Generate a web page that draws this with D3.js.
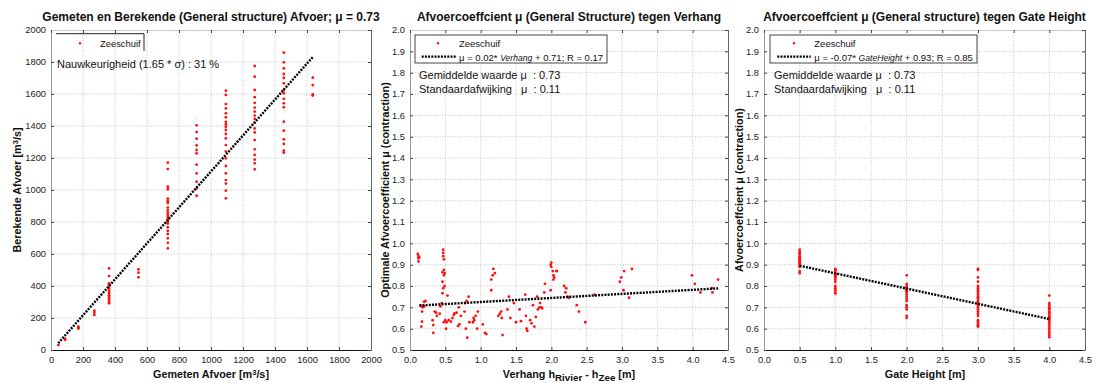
<!DOCTYPE html>
<html>
<head>
<meta charset="utf-8">
<script src="https://cdn.jsdelivr.net/npm/d3@7"></script>
<style>
  body { margin: 0; background: #fff; }
  svg { font-family: "Liberation Sans", Arial, sans-serif; }
  svg text { white-space: pre; }
  .tick text { fill: #222; font-size: 9.3px; }
</style>
</head>
<body>
<div id="chart"></div>
<script>
// ---- data ----
// panel 1: gemeten vs berekende afvoer, grouped by measured discharge
const gemetenNiveaus = [46, 88, 171, 271, 363, 547, 730, 910, 1093, 1273, 1455, 1636];
const berekendPerNiveau = [
  [31],
  [64, 70],
  [134, 140, 146],
  [219, 233, 246],
  [292, 300, 312, 322, 332, 342, 352, 362, 375, 388, 400, 410, 417, 462, 510],
  [454, 483, 504],
  [635, 670, 698, 725, 745, 767, 790, 800, 812, 822, 835, 845, 858, 873, 890, 918, 930, 946, 1005, 1021, 1131, 1171],
  [964, 1010, 1052, 1104, 1158, 1229, 1250, 1279, 1321, 1362, 1404],
  [948, 996, 1040, 1062, 1104, 1150, 1198, 1240, 1281, 1323, 1350, 1375, 1396, 1410, 1425, 1454, 1479, 1510, 1537, 1594, 1621],
  [1129, 1167, 1190, 1219, 1254, 1312, 1360, 1385, 1420, 1445, 1465, 1490, 1515, 1545, 1580, 1625, 1708, 1775],
  [1233, 1246, 1288, 1317, 1371, 1427, 1517, 1542, 1570, 1604, 1625, 1667, 1700, 1725, 1760, 1798, 1858],
  [1590, 1598, 1656, 1702]
];
const fitAfvoerX = [45, 1637];
const fitAfvoerCoef = [1.124, -8];

// panel 2: mu tegen verhang
const verhang = [
  0.11, 0.12, 0.12, 0.12, 0.13,
  0.16, 0.16, 0.17, 0.17, 0.18, 0.2, 0.2, 0.22,
  0.32, 0.33, 0.33, 0.35, 0.37, 0.38, 0.42, 0.43,
  0.45, 0.46, 0.46, 0.46, 0.47, 0.47, 0.47, 0.47, 0.48, 0.48, 0.48, 0.48, 0.49, 0.49, 0.5, 0.51, 0.52, 0.53, 0.55,
  0.58, 0.6, 0.62, 0.63, 0.66, 0.68, 0.69, 0.7, 0.72, 0.77, 0.78, 0.79, 0.8, 0.81, 0.83, 0.84,
  0.89, 0.9, 0.91, 0.93, 0.95, 0.96, 1.03, 1.06, 1.08,
  1.15, 1.15, 1.17, 1.18, 1.2, 1.25, 1.27, 1.29, 1.3, 1.31,
  1.38, 1.4, 1.42, 1.47, 1.5, 1.55, 1.57, 1.63, 1.64, 1.65, 1.66, 1.7, 1.72, 1.74, 1.76, 1.78,
  1.8, 1.81, 1.83, 1.84, 1.86, 1.87, 1.9, 1.91, 1.99, 1.99, 2.0, 2.0, 2.02, 2.03, 2.03, 2.04, 2.07, 2.08,
  2.18, 2.2, 2.21, 2.23, 2.25, 2.36, 2.39, 2.48, 2.61,
  2.97, 2.99, 3.02, 3.03, 3.1, 3.14,
  3.99, 4.03, 4.11, 4.27, 4.28, 4.36
];
const muVerhang = [
  0.95, 0.94, 0.93, 0.915, 0.935,
  0.708, 0.61, 0.68, 0.633, 0.70, 0.705, 0.726, 0.73,
  0.64, 0.617, 0.58, 0.68, 0.675, 0.66, 0.67, 0.705,
  0.72, 0.766, 0.82, 0.865, 0.79, 0.97, 0.955, 0.94, 0.925, 0.85, 0.875, 0.63, 0.80, 0.86, 0.64, 0.60, 0.63, 0.755, 0.64,
  0.633, 0.65, 0.665, 0.672, 0.675, 0.613, 0.70, 0.62, 0.66, 0.68, 0.72, 0.60, 0.73, 0.558, 0.75, 0.63,
  0.63, 0.65, 0.64, 0.66, 0.60, 0.68, 0.62, 0.58, 0.575,
  0.78, 0.83, 0.85, 0.88, 0.86, 0.66, 0.67, 0.68, 0.65, 0.57,
  0.69, 0.75, 0.65, 0.72, 0.63, 0.69, 0.635, 0.76, 0.66, 0.60, 0.59, 0.64, 0.625, 0.71, 0.61, 0.655,
  0.75, 0.69, 0.70, 0.72, 0.70, 0.695, 0.77, 0.81, 0.78, 0.90, 0.91, 0.89, 0.87, 0.85, 0.83, 0.84, 0.87, 0.87,
  0.80, 0.77, 0.79, 0.75, 0.745, 0.71, 0.68, 0.63, 0.76,
  0.82, 0.84, 0.78, 0.87, 0.745, 0.88,
  0.85, 0.81, 0.77, 0.79, 0.77, 0.83
];
const fitVerhangX = [0.13, 4.36];
const fitVerhangCoef = [0.019, 0.706];

// panel 3: mu tegen gate height
const gateHoogtes = [0.5, 1.0, 2.0, 3.0, 4.0];
const muPerGate = [
  [0.97, 0.96, 0.955, 0.95, 0.94, 0.935, 0.93, 0.925, 0.92, 0.915, 0.91, 0.905, 0.90, 0.895, 0.89, 0.87, 0.86],
  [0.88, 0.875, 0.87, 0.86, 0.855, 0.85, 0.845, 0.84, 0.83, 0.82, 0.80, 0.79, 0.78, 0.77, 0.765],
  [0.85, 0.81, 0.80, 0.795, 0.79, 0.785, 0.78, 0.775, 0.77, 0.76, 0.75, 0.74, 0.73, 0.71, 0.70, 0.69, 0.66, 0.65],
  [0.88, 0.875, 0.84, 0.82, 0.80, 0.79, 0.78, 0.77, 0.76, 0.75, 0.745, 0.74, 0.73, 0.725, 0.72, 0.71, 0.70, 0.69, 0.68, 0.67, 0.66, 0.64, 0.63, 0.62, 0.615, 0.61],
  [0.755, 0.72, 0.71, 0.70, 0.695, 0.69, 0.68, 0.675, 0.67, 0.66, 0.655, 0.65, 0.645, 0.64, 0.63, 0.62, 0.61, 0.60, 0.59, 0.58, 0.57, 0.56]
];
const fitGateX = [0.5, 4.0];
const fitGateCoef = [-0.0714, 0.9307];

const afvoerTicks = d3.range(0, 2001, 200);
const muTicks = d3.range(5, 21).map(d => d / 10);
const hoogteTicks = d3.range(0, 10).map(d => d / 2);

// ---- layout ----
const W = 1098, H = 383;
const plotTop = 30, plotBottom = 350;

const svg = d3.select('#chart').append('svg')
  .attr('width', W).attr('height', H);

function flatten(levels, values) {
  const pts = [];
  levels.forEach((lv, i) => values[i].forEach(v => pts.push([lv, v])));
  return pts;
}

function drawPanel(cfg) {
  const x = d3.scaleLinear().domain(cfg.xDomain).range([cfg.left, cfg.right]);
  const y = d3.scaleLinear().domain(cfg.yDomain).range([plotBottom, plotTop]);
  const g = svg.append('g');

  // grid
  g.append('g').selectAll('line').data(cfg.xTicks.slice(1, -1)).enter().append('line')
    .attr('x1', d => x(d)).attr('x2', d => x(d)).attr('y1', plotTop).attr('y2', plotBottom)
    .attr('stroke', '#b8b8b8').attr('stroke-width', 0.8).attr('stroke-dasharray', '1,1.5');
  g.append('g').selectAll('line').data(cfg.yTicks.slice(1, -1)).enter().append('line')
    .attr('y1', d => y(d)).attr('y2', d => y(d)).attr('x1', cfg.left).attr('x2', cfg.right)
    .attr('stroke', '#b8b8b8').attr('stroke-width', 0.8).attr('stroke-dasharray', '1,1.5');

  // axes
  const ax = g.append('g').attr('transform', `translate(0,${plotBottom})`)
    .call(d3.axisBottom(x).tickValues(cfg.xTicks).tickFormat(cfg.xFormat)
      .tickSizeInner(-3).tickSizeOuter(0).tickPadding(6));
  ax.select('.domain').attr('stroke', '#111').attr('stroke-width', 1.2);
  ax.selectAll('.tick line').attr('stroke', '#444');

  const ay = g.append('g').attr('transform', `translate(${cfg.left},0)`)
    .call(d3.axisLeft(y).tickValues(cfg.yTicks).tickFormat(cfg.yFormat)
      .tickSizeInner(-3).tickSizeOuter(0).tickPadding(5));
  ay.select('.domain').attr('stroke', '#999');
  ay.selectAll('.tick line').attr('stroke', '#444');

  const at = g.append('g').attr('transform', `translate(0,${plotTop})`)
    .call(d3.axisTop(x).tickValues(cfg.xTicks).tickFormat('').tickSizeInner(-3).tickSizeOuter(0));
  at.select('.domain').attr('stroke', '#ccc');
  at.selectAll('.tick line').attr('stroke', '#444');

  const ar = g.append('g').attr('transform', `translate(${cfg.right},0)`)
    .call(d3.axisRight(y).tickValues(cfg.yTicks).tickFormat('').tickSizeInner(-3).tickSizeOuter(0));
  ar.select('.domain').attr('stroke', '#666');
  ar.selectAll('.tick line').attr('stroke', '#444');

  // points
  g.append('g').selectAll('circle').data(cfg.points).enter().append('circle')
    .attr('cx', d => x(d[0])).attr('cy', d => y(d[1])).attr('r', 1.4)
    .attr('fill', '#ff1010');

  // fit line
  const line = d3.line().x(d => x(d)).y(d => y(cfg.fitCoef[0] * d + cfg.fitCoef[1]));
  g.append('path').datum(cfg.fitX).attr('d', line)
    .attr('fill', 'none').attr('stroke', '#000').attr('stroke-width', 2.4)
    .attr('stroke-dasharray', '2,1.2');

  // title
  g.append('text').attr('x', (cfg.left + cfg.right) / 2).attr('y', 20.5)
    .attr('text-anchor', 'middle').attr('font-weight', 'bold').attr('font-size', '12px')
    .attr('fill', '#111').text(cfg.title);

  return { g, x, y };
}

function axisLabelX(g, cx, parts) {
  const t = g.append('text').attr('x', cx).attr('y', 378).attr('text-anchor', 'middle')
    .attr('font-weight', 'bold').attr('font-size', '10.8px').attr('fill', '#111');
  parts.forEach(p => {
    const s = t.append('tspan').text(p.t);
    if (p.sup) s.attr('baseline-shift', '40%').attr('font-size', '7.5px');
    if (p.sub) s.attr('baseline-shift', '-30%').attr('font-size', '9.8px');
  });
}

function axisLabelY(g, bx, parts) {
  const t = g.append('text').attr('transform', `translate(${bx},${(plotTop + plotBottom) / 2}) rotate(-90)`)
    .attr('text-anchor', 'middle').attr('font-weight', 'bold').attr('font-size', '10.8px').attr('fill', '#111');
  parts.forEach(p => {
    const s = t.append('tspan').text(p.t);
    if (p.sup) s.attr('baseline-shift', '40%').attr('font-size', '7.5px');
  });
}

// ---- panel 1 ----
const p1 = drawPanel({
  left: 51, right: 371,
  xDomain: [0, 2000], yDomain: [0, 2000],
  xTicks: afvoerTicks, yTicks: afvoerTicks,
  xFormat: d3.format('d'), yFormat: d3.format('d'),
  points: flatten(gemetenNiveaus, berekendPerNiveau),
  fitX: fitAfvoerX, fitCoef: fitAfvoerCoef,
  title: 'Gemeten en Berekende (General structure) Afvoer; \u03bc = 0.73'
});
axisLabelX(p1.g, 211, [{ t: 'Gemeten Afvoer [m' }, { t: '3', sup: true }, { t: '/s]' }]);
axisLabelY(p1.g, 21, [{ t: 'Berekende Afvoer [m' }, { t: '3', sup: true }, { t: '/s]' }]);
// legend 1 (partly hidden box)
p1.g.append('path').attr('d', 'M56,33.7H144V51').attr('fill', 'none').attr('stroke', '#222').attr('stroke-width', 1);
p1.g.append('circle').attr('cx', 80).attr('cy', 43.3).attr('r', 1.2).attr('fill', '#ff1010');
p1.g.append('text').attr('x', 100).attr('y', 47).attr('font-size', '9.4px').attr('fill', '#111').text('Zeeschuif');
p1.g.append('text').attr('x', 57).attr('y', 68).attr('font-size', '11px').attr('fill', '#111')
  .text('Nauwkeurigheid (1.65 * \u03c3) : 31 %');

function legendBox(g, x0, x1, dotX, lineX0, lineX1, textX, varName, eq) {
  g.append('rect').attr('x', x0).attr('y', 35).attr('width', x1 - x0).attr('height', 28)
    .attr('fill', '#fff').attr('stroke', '#333').attr('stroke-width', 0.9);
  g.append('circle').attr('cx', dotX).attr('cy', 43.3).attr('r', 1.2).attr('fill', '#ff1010');
  g.append('text').attr('x', textX).attr('y', 47.3).attr('font-size', '9.5px').attr('fill', '#111').text('Zeeschuif');
  g.append('line').attr('x1', lineX0).attr('x2', lineX1).attr('y1', 56.7).attr('y2', 56.7)
    .attr('stroke', '#000').attr('stroke-width', 2.2).attr('stroke-dasharray', '2,1.2');
  const t = g.append('text').attr('x', textX).attr('y', 60.5).attr('font-size', '9.5px').attr('fill', '#111');
  t.append('tspan').text(eq[0]);
  t.append('tspan').attr('font-style', 'italic').attr('font-size', '8.6px').text(varName);
  t.append('tspan').text(eq[1]);
}

function statText(g, x0) {
  g.append('text').attr('x', x0).attr('y', 79).attr('font-size', '11px').attr('fill', '#111')
    .text('Gemiddelde waarde \u03bc  : 0.73');
  g.append('text').attr('x', x0).attr('y', 92.5).attr('font-size', '11px').attr('fill', '#111')
    .text('Standaardafwijking   \u03bc  : 0.11');
}

// ---- panel 2 ----
const p2 = drawPanel({
  left: 410, right: 728,
  xDomain: [0, 4.5], yDomain: [0.5, 2.0],
  xTicks: hoogteTicks, yTicks: muTicks,
  xFormat: d3.format('.1f'), yFormat: d3.format('.1f'),
  points: d3.zip(verhang, muVerhang),
  fitX: fitVerhangX, fitCoef: fitVerhangCoef,
  title: 'Afvoercoeffcient \u03bc (General Structure) tegen Verhang'
});
axisLabelX(p2.g, 569, [{ t: 'Verhang h' }, { t: 'Rivier', sub: true }, { t: ' - h' }, { t: 'Zee', sub: true }, { t: ' [m]' }]);
axisLabelY(p2.g, 389, [{ t: 'Optimale Afvoercoefficient \u03bc (contraction)' }]);
legendBox(p2.g, 415, 607, 438, 421.7, 457, 459, 'Verhang', ['\u03bc = 0.02* ', ' + 0.71; R = 0.17']);
statText(p2.g, 419);

// ---- panel 3 ----
const p3 = drawPanel({
  left: 764, right: 1085,
  xDomain: [0, 4.5], yDomain: [0.5, 2.0],
  xTicks: hoogteTicks, yTicks: muTicks,
  xFormat: d3.format('.1f'), yFormat: d3.format('.1f'),
  points: flatten(gateHoogtes, muPerGate),
  fitX: fitGateX, fitCoef: fitGateCoef,
  title: 'Afvoercoeffcient \u03bc (General structure) tegen Gate Height'
});
axisLabelX(p3.g, 925, [{ t: 'Gate Height [m]' }]);
axisLabelY(p3.g, 743, [{ t: 'Afvoercoeffcient \u03bc (contraction)' }]);
legendBox(p3.g, 770, 977, 794, 777.3, 810.7, 814.3, 'GateHeight', ['\u03bc = -0.07* ', ' + 0.93; R = 0.85']);
statText(p3.g, 774);
</script>
</body>
</html>
